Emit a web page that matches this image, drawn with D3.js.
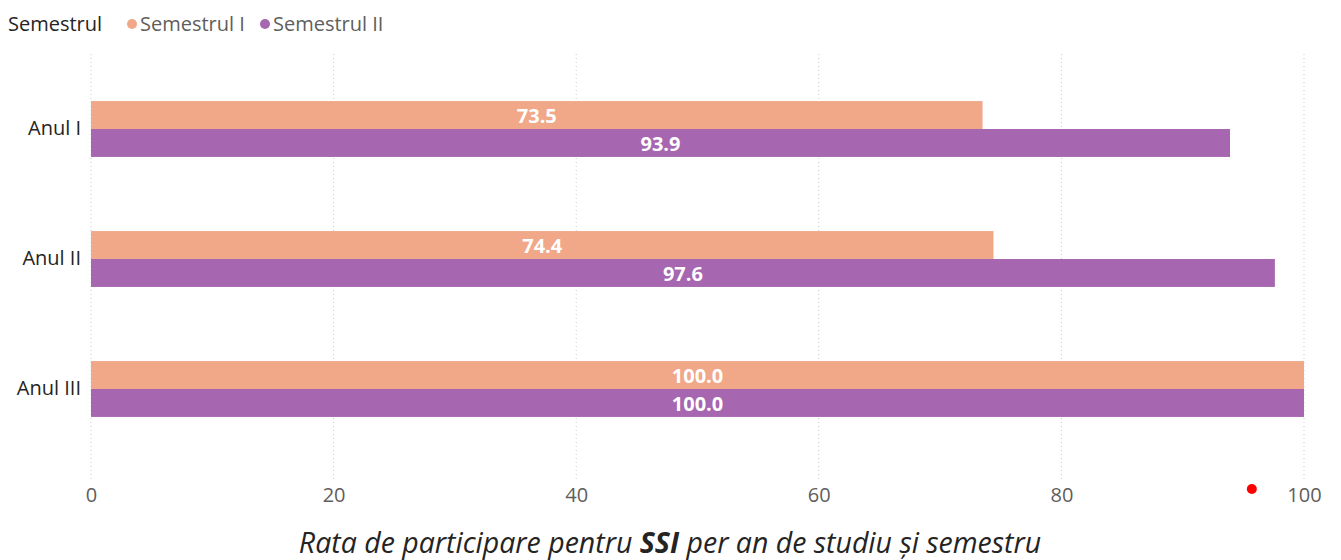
<!DOCTYPE html>
<html>
<head>
<meta charset="utf-8">
<script src="https://cdn.jsdelivr.net/npm/d3@7"></script>
<style>
  body { margin: 0; background: #fff; }
  svg { display: block; font-family: "Open Sans", "Noto Sans", sans-serif; }
</style>
</head>
<body>
<script>
// Data
const categories = ['Anul I', 'Anul II', 'Anul III'];
const seriesNames = ['Semestrul I', 'Semestrul II'];
const semestrulI = [73.5, 74.4, 100.0];
const semestrulII = [93.9, 97.6, 100.0];
const xTicks = [0, 20, 40, 60, 80, 100];
const colors = ['#F0A889', '#A666B0'];

const width = 1341;
const height = 560;
const margin = { top: 54, right: 37, bottom: 82, left: 91 };

const svg = d3.select('body')
.append('svg')
.attr('width', width)
.attr('height', height);

// Scales
const xScale = d3.scaleLinear()
.domain([0, 100])
.range([margin.left, width - margin.right]);

const yScale = d3.scaleBand()
.domain(categories)
.range([64, 454])
.paddingInner(0.57)
.paddingOuter(0.285);

const ySub = d3.scaleBand()
.domain(seriesNames)
.range([0, yScale.bandwidth()]);

// Gridlines
svg.append('g')
.selectAll('line')
.data(xTicks)
.enter()
.append('line')
.attr('x1', d => xScale(d))
.attr('x2', d => xScale(d))
.attr('y1', margin.top)
.attr('y2', height - margin.bottom + 4)
.attr('stroke', '#c8c8c8')
.attr('stroke-width', 1)
.attr('stroke-dasharray', '1,3');

// X axis
const xAxis = svg.append('g')
.attr('transform', `translate(0, 478)`)
.call(d3.axisBottom(xScale).tickValues(xTicks).tickSize(0).tickPadding(10));
xAxis.select('.domain').remove();
xAxis.selectAll('text')
.attr('font-family', '"Open Sans", "Noto Sans", sans-serif')
.attr('font-size', '20px')
.attr('fill', '#605E5C');

// Y axis
const yAxis = svg.append('g')
.attr('transform', `translate(${margin.left}, 0)`)
.call(d3.axisLeft(yScale).tickSize(0).tickPadding(10));
yAxis.select('.domain').remove();
yAxis.selectAll('text')
.attr('font-family', '"Open Sans", "Noto Sans", sans-serif')
.attr('font-size', '20px')
.attr('fill', '#252423');

// Bars
const rows = categories.map((c, i) => ({
    category: c,
    values: [
        { series: seriesNames[0], value: semestrulI[i], color: colors[0] },
        { series: seriesNames[1], value: semestrulII[i], color: colors[1] }
    ]
}));

const groups = svg.append('g')
.selectAll('g')
.data(rows)
.enter()
.append('g')
.attr('transform', d => `translate(0, ${yScale(d.category)})`);

groups.selectAll('rect')
.data(d => d.values)
.enter()
.append('rect')
.attr('x', xScale(0))
.attr('y', d => ySub(d.series))
.attr('width', d => xScale(d.value) - xScale(0))
.attr('height', ySub.bandwidth())
.attr('fill', d => d.color);

groups.selectAll('text')
.data(d => d.values)
.enter()
.append('text')
.text(d => d.value.toFixed(1))
.attr('x', d => (xScale(0) + xScale(d.value)) / 2)
.attr('y', d => ySub(d.series) + ySub.bandwidth() / 2)
.attr('dy', '0.42em')
.attr('text-anchor', 'middle')
.attr('font-size', '20px')
.attr('font-weight', 'bold')
.attr('fill', '#ffffff');

// Legend
const legend = svg.append('g').attr('transform', 'translate(8, 24)');
legend.append('text')
.text('Semestrul')
.attr('x', 0)
.attr('dy', '0.35em')
.attr('font-size', '20px')
.attr('fill', '#252423');

const legendX = [124, 257];
seriesNames.forEach((name, i) => {
    legend.append('circle')
    .attr('cx', legendX[i])
    .attr('cy', 0)
    .attr('r', 5)
    .attr('fill', colors[i]);
    legend.append('text')
    .text(name)
    .attr('x', legendX[i] + 8)
    .attr('dy', '0.35em')
    .attr('font-size', '20px')
    .attr('fill', '#605E5C');
});

// Red marker near axis
svg.append('circle')
.attr('cx', xScale(95.7))
.attr('cy', 489)
.attr('r', 5)
.attr('fill', '#ff0000');

// Title
const title = svg.append('text')
.attr('x', 670)
.attr('y', 553)
.attr('text-anchor', 'middle')
.attr('font-size', '28.5px')
.attr('font-style', 'italic')
.attr('fill', '#252423');
title.append('tspan').text('Rata de participare pentru ');
title.append('tspan').text('SSI').attr('font-weight', 'bold');
title.append('tspan').text(' per an de studiu și semestru');
</script>
</body>
</html>
